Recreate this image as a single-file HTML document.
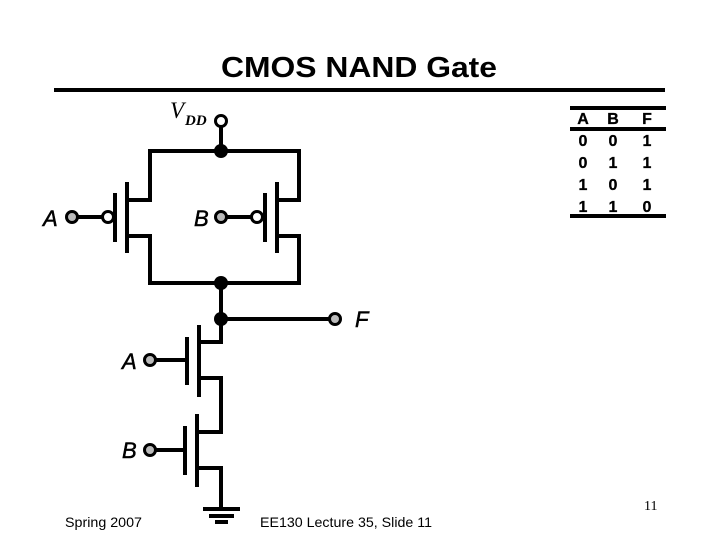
<!DOCTYPE html>
<html><head><meta charset="utf-8"><style>html,body{margin:0;padding:0;background:#fff}svg{display:block}text{font-family:"Liberation Sans",sans-serif}</style></head><body>
<svg width="720" height="540" viewBox="0 0 720 540" xmlns="http://www.w3.org/2000/svg">
<rect width="720" height="540" fill="#fff"/>
<text x="221" y="77" font-size="29" font-weight="bold" fill="#000" textLength="276" lengthAdjust="spacingAndGlyphs">CMOS NAND Gate</text>
<rect x="54" y="88" width="611" height="4" fill="#000"/>
<g fill="none" stroke="#000" stroke-width="4">
<path d="M221 127V151M129 200H150V151H299V200H279M129 236H150V283H299V236H279M221 283V342"/>
<path d="M127 182V253M115 193V242M277 182V253M265 193V242"/>
<path d="M72 217H102M221 217H251"/>
<path d="M221 319H335M201 342H223M201 378H221V432H199M199 468H221V509"/>
<path d="M199 325V397M187 337V385M197 414V487M185 426V475"/>
<path d="M150 360H187M150 450H185"/>
<path d="M203 509H240M209 516H234"/>
</g>
<rect x="215" y="520" width="13" height="4" fill="#000"/>
<g fill="#000"><circle cx="221" cy="151" r="7"/><circle cx="221" cy="283" r="7"/><circle cx="221" cy="319" r="7"/></g>
<g fill="#fff" stroke="#000" stroke-width="3"><circle cx="221" cy="121" r="5.5"/><circle cx="108" cy="217" r="5.5"/><circle cx="257" cy="217" r="5.5"/></g>
<g fill="#bbb" stroke="#000" stroke-width="3"><circle cx="72" cy="217" r="5.5"/><circle cx="221" cy="217" r="5.5"/><circle cx="150" cy="360" r="5.5"/><circle cx="150" cy="450" r="5.5"/><circle cx="335" cy="319" r="5.5"/></g>
<text x="170" y="118" style="font-family:'Liberation Serif',serif" font-style="italic" font-size="23" fill="#000">V</text>
<text x="185" y="125" style="font-family:'Liberation Serif',serif" font-style="italic" font-weight="bold" font-size="15" fill="#000">DD</text>
<g font-size="22" font-style="italic" fill="#000" stroke="#000" stroke-width="0.5">
<text x="43" y="226">A</text><text x="194" y="226">B</text><text x="122" y="369">A</text><text x="122" y="458">B</text><text x="355" y="327">F</text>
</g>
<rect x="570" y="106" width="96" height="4" fill="#000"/>
<rect x="570" y="127" width="96" height="4" fill="#000"/>
<rect x="570" y="214" width="96" height="4" fill="#000"/>
<g font-size="16" font-weight="bold" text-anchor="middle" fill="#000" stroke="#000" stroke-width="0.3">
<text x="583" y="124">A</text><text x="613" y="124">B</text><text x="647" y="124">F</text>
<text x="583" y="146">0</text><text x="613" y="146">0</text><text x="647" y="146">1</text>
<text x="583" y="168">0</text><text x="613" y="168">1</text><text x="647" y="168">1</text>
<text x="583" y="190">1</text><text x="613" y="190">0</text><text x="647" y="190">1</text>
<text x="583" y="212">1</text><text x="613" y="212">1</text><text x="647" y="212">0</text>
</g>
<text x="65" y="527" font-size="14" fill="#000" textLength="77" lengthAdjust="spacingAndGlyphs">Spring 2007</text>
<text x="260" y="527" font-size="14" fill="#000" textLength="172" lengthAdjust="spacingAndGlyphs">EE130 Lecture 35, Slide 11</text>
<text x="644" y="510" style="font-family:'Liberation Serif',serif" font-size="14" fill="#000">11</text>
</svg>
</body></html>
